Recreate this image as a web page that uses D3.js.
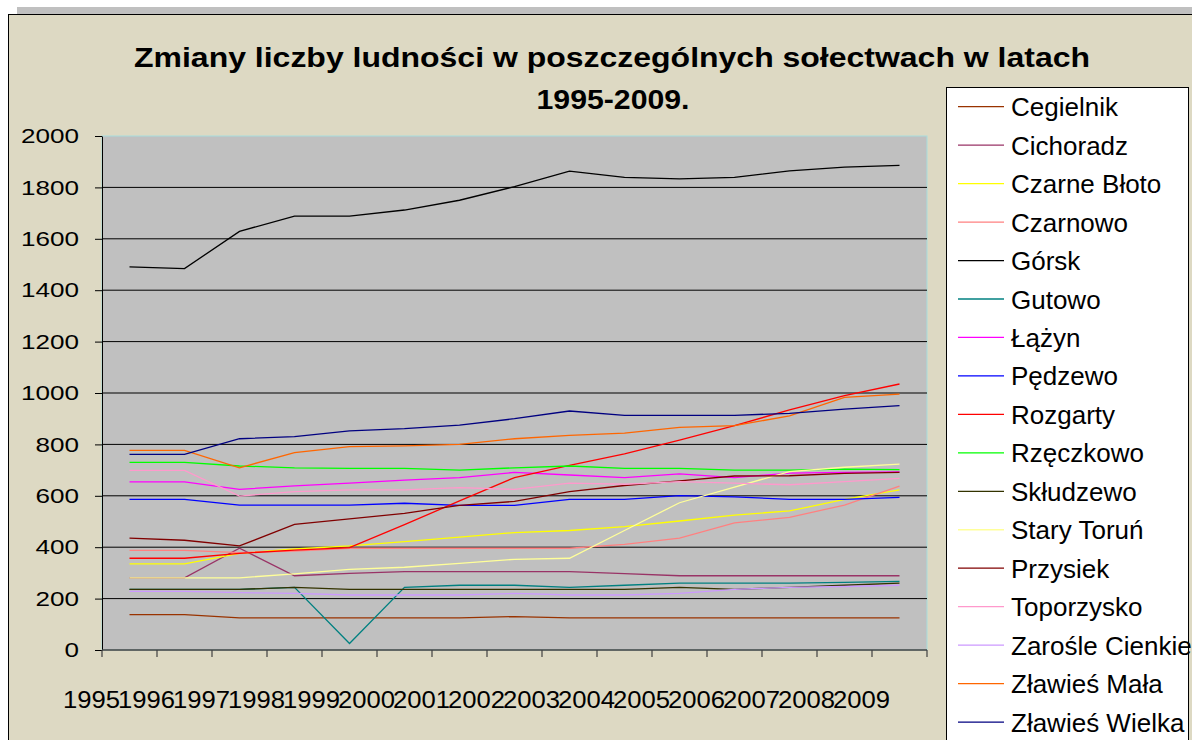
<!DOCTYPE html>
<html>
<head>
<meta charset="utf-8">
<script src="https://cdnjs.cloudflare.com/ajax/libs/d3/7.8.5/d3.min.js"></script>
<style>
    body { margin: 0; background: #ffffff; }
    svg { display: block; font-family: "Liberation Sans", Arial, sans-serif; }
</style>
</head>
<body>
<svg id="chart" width="1192" height="740"></svg>
<script>
// categories
let years = ["1995", "1996", "1997", "1998", "1999", "2000", "2001", "2002",
             "2003", "2004", "2005", "2006", "2007", "2008", "2009"];
let yTicks = [0, 200, 400, 600, 800, 1000, 1200, 1400, 1600, 1800, 2000];

// population of each village, 1995-2009
let cegielnik     = [138, 138, 125, 125, 125, 125, 125, 130, 125, 125, 125, 125, 125, 125, 125];
let cichoradz     = [281, 281, 396, 289, 298, 305, 305, 305, 305, 297, 289, 289, 289, 289, 289];
let czarneBloto   = [335, 335, 376, 393, 405, 422, 439, 457, 465, 480, 502, 525, 541, 586, 623];
let czarnowo      = [388, 388, 379, 385, 396, 396, 396, 396, 396, 411, 435, 495, 516, 564, 638];
let gorsk         = [1491, 1484, 1629, 1688, 1688, 1712, 1750, 1803, 1863, 1839, 1833, 1839, 1864, 1879, 1886];
let gutowo        = [236, 236, 236, 244, 25, 244, 252, 252, 244, 252, 260, 260, 260, 263, 267];
let lazyn         = [654, 654, 625, 639, 649, 661, 671, 691, 681, 671, 685, 671, 688, 691, 693];
let pedzewo       = [586, 586, 564, 564, 564, 571, 563, 563, 586, 586, 601, 596, 586, 586, 594];
let rozgarty      = [357, 357, 376, 389, 398, 488, 580, 671, 718, 763, 817, 873, 934, 990, 1035];
let rzeczkowo     = [730, 730, 716, 709, 707, 707, 700, 709, 716, 707, 707, 700, 700, 704, 702];
let skludzewo     = [236, 236, 236, 244, 236, 236, 236, 236, 236, 236, 244, 236, 244, 252, 260];
let staryTorun    = [281, 281, 281, 296, 314, 322, 337, 353, 357, 465, 573, 634, 694, 711, 723];
let przysiek      = [435, 427, 405, 489, 510, 532, 563, 578, 616, 640, 658, 677, 678, 687, 691];
let toporzysko    = [699, 699, 599, 616, 623, 623, 632, 625, 649, 645, 655, 649, 643, 655, 668];
let zarosle       = [228, 228, 223, 220, 214, 214, 214, 220, 214, 214, 220, 236, 244, 247, 252];
let zlawiesMala   = [777, 777, 709, 768, 791, 794, 800, 822, 835, 844, 866, 873, 911, 983, 996];
let zlawiesWielka = [761, 761, 822, 830, 853, 861, 875, 900, 930, 913, 913, 913, 921, 937, 951];

let names = ["Cegielnik", "Cichoradz", "Czarne Błoto", "Czarnowo", "Górsk", "Gutowo", "Łążyn",
             "Pędzewo", "Rozgarty", "Rzęczkowo", "Skłudzewo", "Stary Toruń", "Przysiek",
             "Toporzysko", "Zarośle Cienkie", "Zławieś Mała", "Zławieś Wielka"];
let values = [cegielnik, cichoradz, czarneBloto, czarnowo, gorsk, gutowo, lazyn, pedzewo, rozgarty,
              rzeczkowo, skludzewo, staryTorun, przysiek, toporzysko, zarosle, zlawiesMala, zlawiesWielka];
let colors = ["#993300", "#993366", "#ffff00", "#ff8080", "#000000", "#008080", "#ff00ff",
              "#0000ff", "#ff0000", "#00ff00", "#333300", "#ffff99", "#800000",
              "#ff99cc", "#cc99ff", "#ff6600", "#000080"];

let series = names.map((n, i) => {return {"name": n, "values": values[i], "color": colors[i]}});

let svg = d3.select("#chart");

// outer frame + shadow strip
svg.append("rect").attr("x", 17).attr("y", 7).attr("width", 1200).attr("height", 10).attr("fill", "#c0c0c0");
svg.append("rect").attr("x", 8.5).attr("y", 14.5).attr("width", 1200).attr("height", 740)
    .attr("fill", "#ddd9c3").attr("stroke", "#000").attr("stroke-width", 1);

let x = d3.scaleBand().domain(years).range([102, 927]);
let y = d3.scaleLinear().domain([0, 2000]).range([650, 136]);

// plot area
svg.append("rect")
    .attr("x", x.range()[0]).attr("y", y(2000))
    .attr("width", x.range()[1] - x.range()[0]).attr("height", y(0) - y(2000))
    .attr("fill", "#c0c0c0").attr("stroke", "#a8dede").attr("stroke-width", 1);

// gridlines
svg.append("g").selectAll("line")
    .data(yTicks.filter(d => d > 0 && d < 2000))
    .join("line")
    .attr("x1", x.range()[0]).attr("x2", x.range()[1])
    .attr("y1", d => y(d)).attr("y2", d => y(d))
    .attr("stroke", "#000").attr("stroke-width", 1);

// y axis
let yAxis = svg.append("g")
    .attr("transform", "translate(" + x.range()[0] + ",0)")
    .call(d3.axisLeft(y).tickValues(yTicks).tickFormat(d3.format("d"))
        .tickSize(7).tickPadding(16).tickSizeOuter(0));
yAxis.select(".domain").attr("stroke", "#000");
yAxis.selectAll("text")
    .attr("font-size", 21).attr("fill", "#000")
    .attr("textLength", d => String(d).length * 14.5)
    .attr("lengthAdjust", "spacingAndGlyphs");

// x axis (ticks between categories)
let xEdges = years.map(d => x(d)).concat([x.range()[1]]);
svg.append("line")
    .attr("x1", x.range()[0]).attr("x2", x.range()[1])
    .attr("y1", y(0)).attr("y2", y(0))
    .attr("stroke", "#404040").attr("stroke-width", 1.5);
svg.append("g").selectAll("line")
    .data(xEdges)
    .join("line")
    .attr("x1", d => d).attr("x2", d => d)
    .attr("y1", y(0)).attr("y2", y(0) + 7)
    .attr("stroke", "#404040").attr("stroke-width", 1.2);
svg.append("g").selectAll("text")
    .data(years)
    .join("text")
    .attr("x", d => x(d) - 10.5)
    .attr("y", 708)
    .attr("text-anchor", "middle")
    .attr("font-size", 23)
    .attr("textLength", 57)
    .attr("lengthAdjust", "spacingAndGlyphs")
    .text(d => d);

// series lines
let line = d3.line()
    .x((d, i) => x(years[i]) + x.bandwidth() / 2)
    .y(d => y(d));

svg.append("g").selectAll("path")
    .data(series)
    .join("path")
    .attr("d", d => line(d.values))
    .attr("fill", "none")
    .attr("stroke", d => d.color)
    .attr("stroke-width", 1.3);

// title
let title = svg.append("g").attr("font-weight", "bold").attr("font-size", 28).attr("text-anchor", "middle");
title.append("text").attr("x", 612).attr("y", 67)
    .attr("textLength", 956).attr("lengthAdjust", "spacingAndGlyphs")
    .text("Zmiany liczby ludności w poszczególnych sołectwach w latach");
title.append("text").attr("x", 613).attr("y", 109)
    .attr("textLength", 153).attr("lengthAdjust", "spacingAndGlyphs")
    .text("1995-2009.");

// legend
let legend = svg.append("g");
legend.append("rect")
    .attr("x", 946.5).attr("y", 87.5).attr("width", 242).attr("height", 700)
    .attr("fill", "#fff").attr("stroke", "#000").attr("stroke-width", 1);
let entries = legend.selectAll("g.entry")
    .data(series)
    .join("g")
    .attr("class", "entry")
    .attr("transform", (d, i) => "translate(0," + (106.7 + i * 38.46) + ")");
entries.append("line")
    .attr("x1", 958).attr("x2", 1004).attr("y1", 0).attr("y2", 0)
    .attr("stroke", d => d.color).attr("stroke-width", 1.3);
entries.append("text")
    .attr("x", 1011).attr("y", 9.5)
    .attr("font-size", 26)
    .text(d => d.name);
</script>
</body>
</html>
